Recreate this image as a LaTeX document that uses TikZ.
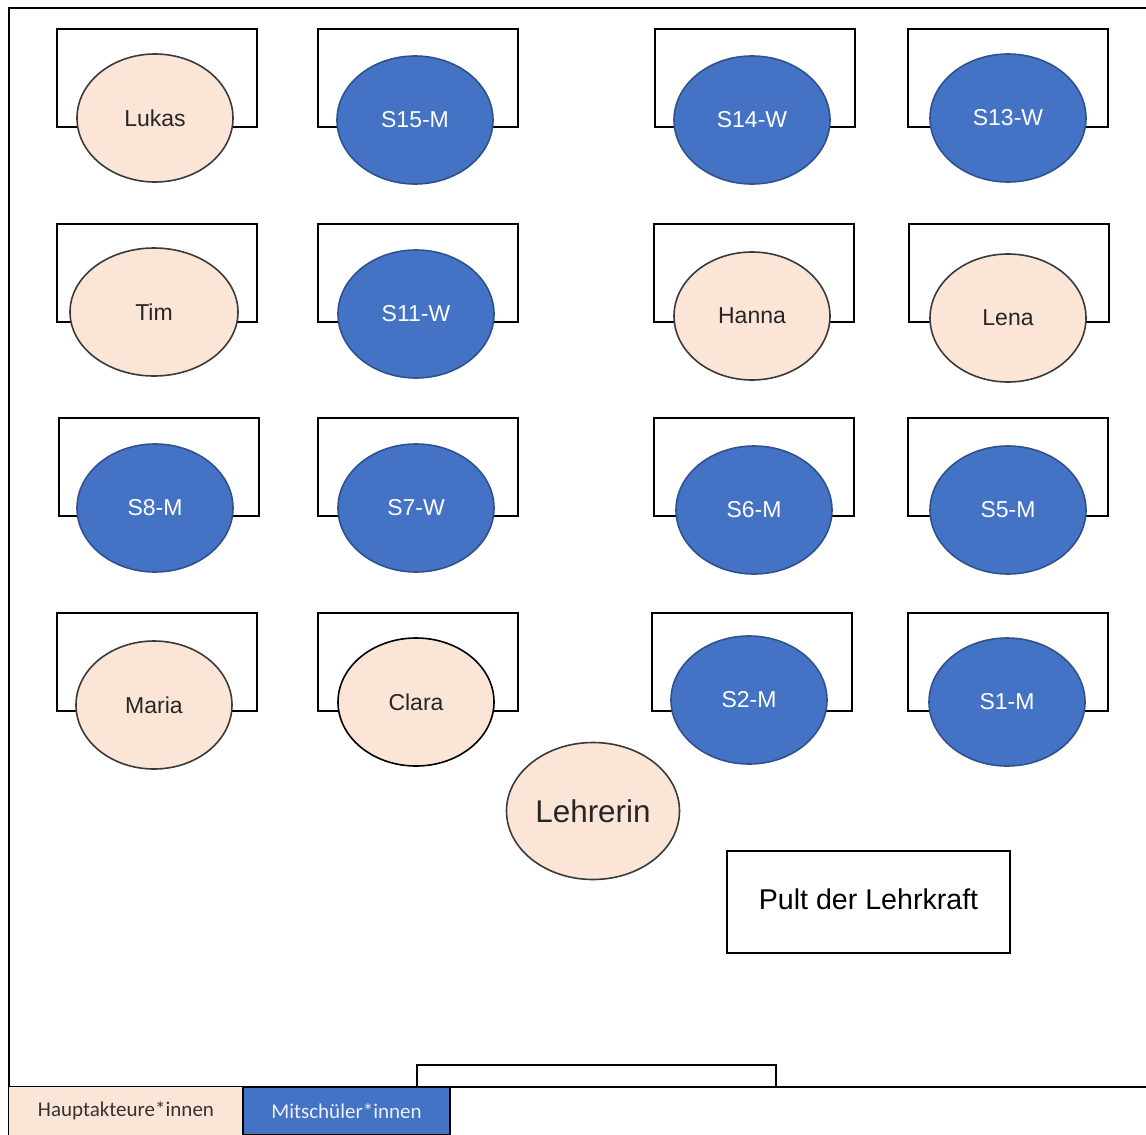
\documentclass[tikz,border=0pt]{standalone}
\usepackage{fontspec}
\setmainfont{Liberation Sans}
\newfontfamily\legendfont{Carlito}
\usetikzlibrary{shapes.geometric}

\definecolor{peach}{HTML}{FBE5D6}
\definecolor{seatblue}{HTML}{4472C4}
\definecolor{rimblue}{HTML}{2F528F}
\definecolor{rimgray}{HTML}{3A3A3A}

\tikzset{
  desk/.style={draw, line width=0.7pt, minimum width=100pt, minimum height=49pt, inner sep=0pt},
  lead/.style={ellipse, draw=rimgray, fill=peach, line width=0.8pt, minimum width=78pt,
    minimum height=64pt, inner sep=0pt, text=black!85, font=\fontsize{11.5}{13}\selectfont},
  mate/.style={lead, draw=rimblue, fill=seatblue, text=white},
  keybox/.style={minimum width=117pt, minimum height=24pt, inner sep=0pt,
    font=\legendfont\fontsize{10.5}{12}\selectfont}
}

\begin{document}
\begin{tikzpicture}[x=0.5pt, y=-0.5pt]
   \useasboundingbox (0,0) rectangle (1146,1135);
   % room
   \draw[line width=0.8pt] (1146,8) -- (9,8) -- (9,1135);
   \draw[line width=0.8pt] (9,1087) -- (1146,1087);

   % desks
   \foreach \n/\x/\y in {d1/157/78, d2/418/78, d3/755/78, d4/1008/78,
                         d5/157/273, d6/418/273, d7/754/273, d8/1009/273,
                         d9/159/467, d10/418/467, d11/754/467, d12/1008/467,
                         d13/157/662, d14/418/662, d15/752/662, d16/1008/662}
      \node[desk] (\n) at (\x,\y) {};

   % seats
   \node[lead] (lukas) at (155,118) {Lukas};
   \node[mate] (s15m) at (415,120) {S15-M};
   \node[mate] (s14w) at (752,120) {S14-W};
   \node[mate] (s13w) at (1008,118) {S13-W};

   \node[lead, minimum width=84pt] (tim) at (154,312) {Tim};
   \node[mate] (s11w) at (416,314) {S11-W};
   \node[lead] (hanna) at (752,316) {Hanna};
   \node[lead] (lena) at (1008,318) {Lena};

   \node[mate] (s8m) at (155,508) {S8-M};
   \node[mate] (s7w) at (416,508) {S7-W};
   \node[mate] (s6m) at (754,510) {S6-M};
   \node[mate] (s5m) at (1008,510) {S5-M};

   \node[lead] (maria) at (154,705) {Maria};
   \node[lead, draw=black] (clara) at (416,702) {Clara};
   \node[mate] (s2m) at (749,700) {S2-M};
   \node[mate] (s1m) at (1007,702) {S1-M};

   % teacher
   \node[lead, minimum width=86.5pt, minimum height=68.5pt,
         font=\fontsize{15.7}{18}\selectfont] (lehrerin) at (593,811) {Lehrerin};
   \node[draw, line width=0.8pt, minimum width=141.5pt, minimum height=51pt,
         font=\fontsize{14.3}{16}\selectfont] (pult) at (868.5,902) {\raisebox{3pt}{Pult der Lehrkraft}};

   % door
   \draw[line width=0.8pt] (417,1087) rectangle (776,1065);

   % legend
   \node[keybox, fill=peach, text=black!80] (keylead) at (126,1111) {Hauptakteure*innen};
   \node[keybox, fill=seatblue, draw=black, line width=0.8pt, minimum width=103.5pt,
         text=white!90!seatblue] (keymate) at (346.5,1111) {Mitschüler*innen};
\end{tikzpicture}
\end{document}
